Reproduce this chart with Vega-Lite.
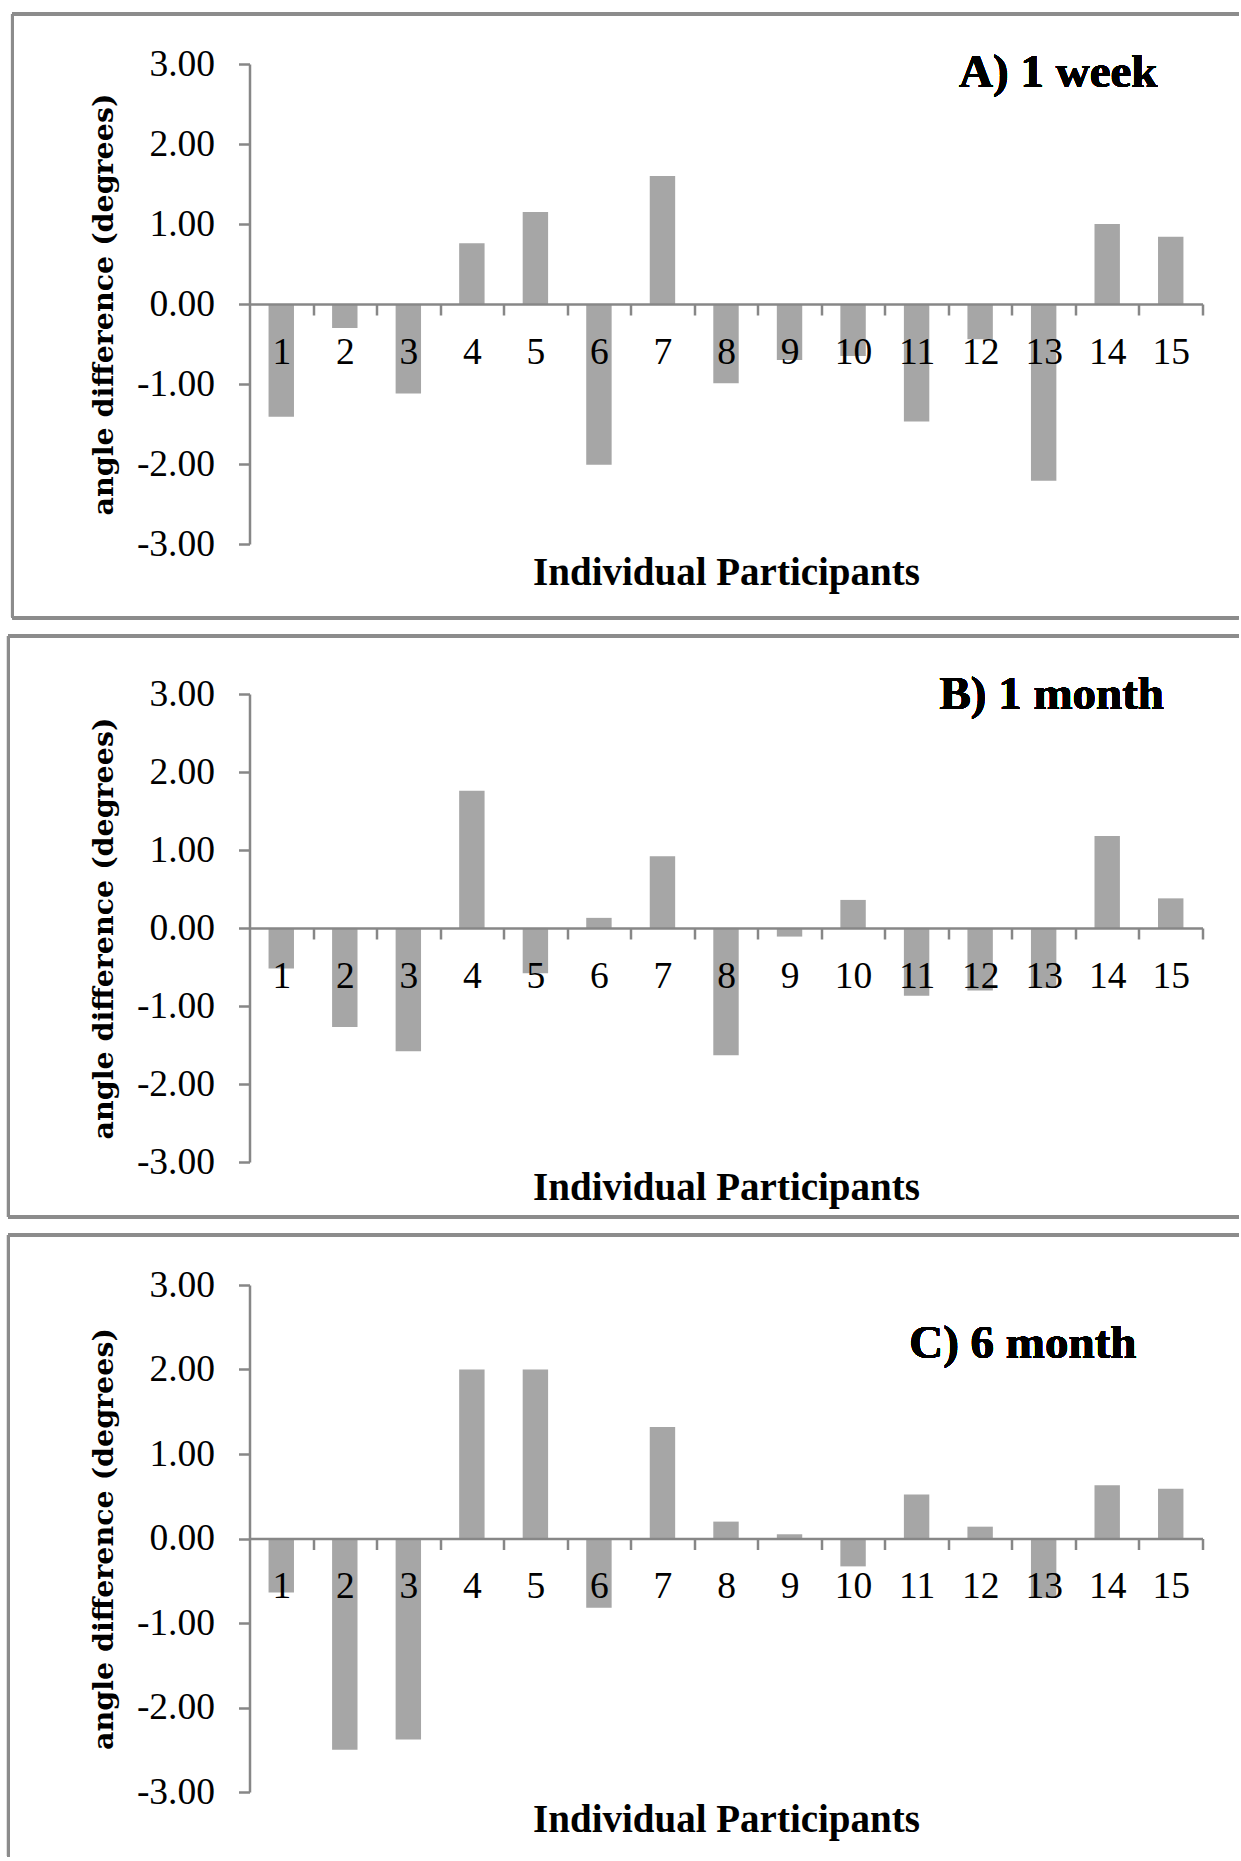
{
  "$schema": "https://vega.github.io/schema/vega-lite/v6.json",
  "background": "white",
  "padding": {"left": 6.5, "top": 12, "right": 0, "bottom": 0},
  "spacing": 14,
  "config": {
    "view": {"stroke": null},
    "axis": {
      "grid": false,
      "domainColor": "#878787",
      "domainWidth": 2.5,
      "tickColor": "#878787",
      "tickWidth": 2.5,
      "tickSize": 11,
      "labelFont": "Liberation Serif",
      "labelFontSize": 37.5,
      "labelColor": "black",
      "titleColor": "black"
    }
  },
  "datasets": {
    "week": [
      {"participant": 1, "diff": -1.41}, {"participant": 2, "diff": -0.30}, {"participant": 3, "diff": -1.12},
      {"participant": 4, "diff": 0.76}, {"participant": 5, "diff": 1.15}, {"participant": 6, "diff": -2.01},
      {"participant": 7, "diff": 1.60}, {"participant": 8, "diff": -0.99}, {"participant": 9, "diff": -0.70},
      {"participant": 10, "diff": -0.65}, {"participant": 11, "diff": -1.47}, {"participant": 12, "diff": -0.44},
      {"participant": 13, "diff": -2.21}, {"participant": 14, "diff": 1.00}, {"participant": 15, "diff": 0.84}
    ],
    "month1": [
      {"participant": 1, "diff": -0.52}, {"participant": 2, "diff": -1.27}, {"participant": 3, "diff": -1.58},
      {"participant": 4, "diff": 1.76}, {"participant": 5, "diff": -0.58}, {"participant": 6, "diff": 0.13},
      {"participant": 7, "diff": 0.92}, {"participant": 8, "diff": -1.63}, {"participant": 9, "diff": -0.11},
      {"participant": 10, "diff": 0.36}, {"participant": 11, "diff": -0.87}, {"participant": 12, "diff": -0.80},
      {"participant": 13, "diff": -0.77}, {"participant": 14, "diff": 1.18}, {"participant": 15, "diff": 0.38}
    ],
    "month6": [
      {"participant": 1, "diff": -0.64}, {"participant": 2, "diff": -2.50}, {"participant": 3, "diff": -2.38},
      {"participant": 4, "diff": 2.00}, {"participant": 5, "diff": 2.00}, {"participant": 6, "diff": -0.82},
      {"participant": 7, "diff": 1.32}, {"participant": 8, "diff": 0.20}, {"participant": 9, "diff": 0.05},
      {"participant": 10, "diff": -0.33}, {"participant": 11, "diff": 0.52}, {"participant": 12, "diff": 0.14},
      {"participant": 13, "diff": -0.70}, {"participant": 14, "diff": 0.63}, {"participant": 15, "diff": 0.59}
    ]
  },
  "vconcat": [
    {
      "width": 953,
      "height": 480,
      "data": {"name": "week"},
      "layer": [
        {
          "mark": {"type": "bar", "color": "#a6a6a6"},
          "encoding": {
            "x": {"field": "participant", "type": "ordinal",
              "scale": {"paddingInner": 0.6, "paddingOuter": 0.3},
              "axis": {"title": "Individual Participants", "labelAngle": 0, "offset": -240, "zindex": 1, "tickOffset": 31.77, "labelOffset": -31.77, "labelPadding": 18, "titlePadding": 183, "titleFont": "Liberation Serif", "titleFontSize": 39, "titleFontWeight": "bold"}},
            "y": {"field": "diff", "type": "quantitative",
              "scale": {"domain": [-3, 3], "nice": false},
              "axis": {"title": "angle difference (degrees)", "values": [-3, -2, -1, 0, 1, 2, 3], "format": ".2f", "labelExpr": "replace(datum.label, '\u2212', '-')", "labelPadding": 24, "titleFont": "DejaVu Serif", "titleFontSize": 28.5, "titleFontWeight": "bold", "titlePadding": 17.5}}
          }
        },
        {
          "mark": {"type": "text", "align": "right", "baseline": "alphabetic", "font": "Liberation Serif", "fontSize": 47, "fontWeight": "bold", "color": "black"},
          "encoding": {
            "x": {"datum": 0.9528, "type": "quantitative", "scale": {"domain": [0, 1]}, "axis": null},
            "y": {"datum": 2.7075, "type": "quantitative"},
            "text": {"value": "A) 1 week"}
          }
        },
        {
          "mark": {"type": "rule", "color": "#8c8c8c", "strokeWidth": 3, "clip": false},
          "encoding": {
            "x": {"datum": -0.2487, "type": "quantitative", "scale": {"domain": [0, 1]}, "axis": null},
            "x2": {"datum": 1.0378},
            "y": {"datum": 3.625, "type": "quantitative"}
          }
        },
        {
          "mark": {"type": "rule", "color": "#8c8c8c", "strokeWidth": 3, "clip": false},
          "encoding": {
            "x": {"datum": -0.2487, "type": "quantitative", "scale": {"domain": [0, 1]}, "axis": null},
            "x2": {"datum": 1.0378},
            "y": {"datum": -3.921, "type": "quantitative"}
          }
        },
        {
          "mark": {"type": "rule", "color": "#8c8c8c", "strokeWidth": 3, "clip": false},
          "encoding": {
            "x": {"datum": -0.2487, "type": "quantitative", "scale": {"domain": [0, 1]}, "axis": null},
            "y": {"datum": 3.625, "type": "quantitative"},
            "y2": {"datum": -3.921}
          }
        }
      ],
      "resolve": {"scale": {"x": "independent"}, "axis": {"x": "independent"}}
    },
    {
      "width": 953,
      "height": 468,
      "data": {"name": "month1"},
      "layer": [
        {
          "mark": {"type": "bar", "color": "#a6a6a6"},
          "encoding": {
            "x": {"field": "participant", "type": "ordinal",
              "scale": {"paddingInner": 0.6, "paddingOuter": 0.3},
              "axis": {"title": "Individual Participants", "labelAngle": 0, "offset": -234, "zindex": 1, "tickOffset": 31.77, "labelOffset": -31.77, "labelPadding": 18, "titlePadding": 174, "titleFont": "Liberation Serif", "titleFontSize": 39, "titleFontWeight": "bold"}},
            "y": {"field": "diff", "type": "quantitative",
              "scale": {"domain": [-3, 3], "nice": false},
              "axis": {"title": "angle difference (degrees)", "values": [-3, -2, -1, 0, 1, 2, 3], "format": ".2f", "labelExpr": "replace(datum.label, '\u2212', '-')", "labelPadding": 24, "titleFont": "DejaVu Serif", "titleFontSize": 28.5, "titleFontWeight": "bold", "titlePadding": 17.5}}
          }
        },
        {
          "mark": {"type": "text", "align": "right", "baseline": "alphabetic", "font": "Liberation Serif", "fontSize": 47, "fontWeight": "bold", "color": "black"},
          "encoding": {
            "x": {"datum": 0.9596, "type": "quantitative", "scale": {"domain": [0, 1]}, "axis": null},
            "y": {"datum": 2.808, "type": "quantitative"},
            "text": {"value": "B) 1 month"}
          }
        },
        {
          "mark": {"type": "rule", "color": "#8c8c8c", "strokeWidth": 3, "clip": false},
          "encoding": {
            "x": {"datum": -0.2529, "type": "quantitative", "scale": {"domain": [0, 1]}, "axis": null},
            "x2": {"datum": 1.0378},
            "y": {"datum": 3.744, "type": "quantitative"}
          }
        },
        {
          "mark": {"type": "rule", "color": "#8c8c8c", "strokeWidth": 3, "clip": false},
          "encoding": {
            "x": {"datum": -0.2529, "type": "quantitative", "scale": {"domain": [0, 1]}, "axis": null},
            "x2": {"datum": 1.0378},
            "y": {"datum": -3.705, "type": "quantitative"}
          }
        },
        {
          "mark": {"type": "rule", "color": "#8c8c8c", "strokeWidth": 3, "clip": false},
          "encoding": {
            "x": {"datum": -0.2529, "type": "quantitative", "scale": {"domain": [0, 1]}, "axis": null},
            "y": {"datum": 3.744, "type": "quantitative"},
            "y2": {"datum": -3.705}
          }
        }
      ],
      "resolve": {"scale": {"x": "independent"}, "axis": {"x": "independent"}}
    },
    {
      "width": 953,
      "height": 507,
      "data": {"name": "month6"},
      "layer": [
        {
          "mark": {"type": "bar", "color": "#a6a6a6"},
          "encoding": {
            "x": {"field": "participant", "type": "ordinal",
              "scale": {"paddingInner": 0.6, "paddingOuter": 0.3},
              "axis": {"title": "Individual Participants", "labelAngle": 0, "offset": -253.5, "zindex": 1, "tickOffset": 31.77, "labelOffset": -31.77, "labelPadding": 18, "titlePadding": 195.5, "titleFont": "Liberation Serif", "titleFontSize": 39, "titleFontWeight": "bold"}},
            "y": {"field": "diff", "type": "quantitative",
              "scale": {"domain": [-3, 3], "nice": false},
              "axis": {"title": "angle difference (degrees)", "values": [-3, -2, -1, 0, 1, 2, 3], "format": ".2f", "labelExpr": "replace(datum.label, '\u2212', '-')", "labelPadding": 24, "titleFont": "DejaVu Serif", "titleFontSize": 28.5, "titleFontWeight": "bold", "titlePadding": 17.5}}
          }
        },
        {
          "mark": {"type": "text", "align": "right", "baseline": "alphabetic", "font": "Liberation Serif", "fontSize": 47, "fontWeight": "bold", "color": "black"},
          "encoding": {
            "x": {"datum": 0.9307, "type": "quantitative", "scale": {"domain": [0, 1]}, "axis": null},
            "y": {"datum": 2.131, "type": "quantitative"},
            "text": {"value": "C) 6 month"}
          }
        },
        {
          "mark": {"type": "rule", "color": "#8c8c8c", "strokeWidth": 3, "clip": false},
          "encoding": {
            "x": {"datum": -0.2529, "type": "quantitative", "scale": {"domain": [0, 1]}, "axis": null},
            "x2": {"datum": 1.0378},
            "y": {"datum": 3.592, "type": "quantitative"}
          }
        },
        {
          "mark": {"type": "rule", "color": "#8c8c8c", "strokeWidth": 3, "clip": false},
          "encoding": {
            "x": {"datum": -0.2529, "type": "quantitative", "scale": {"domain": [0, 1]}, "axis": null},
            "y": {"datum": 3.592, "type": "quantitative"},
            "y2": {"datum": -3.76}
          }
        }
      ],
      "resolve": {"scale": {"x": "independent"}, "axis": {"x": "independent"}}
    }
  ]
}
